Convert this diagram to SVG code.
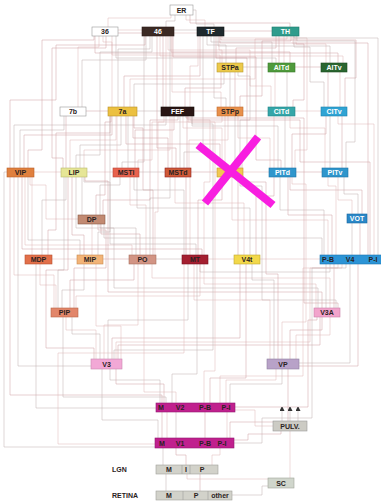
<svg xmlns="http://www.w3.org/2000/svg" width="381" height="501" viewBox="0 0 381 501">
<style>
text{font-family:"Liberation Sans",Arial,sans-serif;font-weight:bold;font-size:7px;text-anchor:middle;fill:#2a2222}
text.w{fill:#fff}
.nodes rect{stroke-width:0.6}
#connectors path{fill:none;stroke-width:0.5}
.a{stroke:#dcb4b6}.b{stroke:#bcaeac}.c{stroke:#cc9ea0}
.lbl{text-anchor:start}
</style>
<defs>
<marker id="ar" markerWidth="4" markerHeight="5" refX="2" refY="2.5" orient="auto" markerUnits="userSpaceOnUse"><path d="M0 0L5 2.5L0 5z" fill="#333"/></marker>
</defs>
<rect width="381" height="501" fill="#fff"/>
<g id="connectors">
<path class="a" d="M171 15V18H108V27"/><path class="b" d="M175 15V21H166V27"/><path class="a" d="M186 15V20H205V27"/><path class="c" d="M190 15V23H290V27"/><path class="b" d="M193 10H196V24H214V27"/>
<path class="a" d="M118 30H142"/><path class="c" d="M118 33H142"/><path class="b" d="M174 30H197"/><path class="a" d="M174 33H197"/><path class="c" d="M224 31H272"/>
<path class="a" d="M222 63V50H168V36"/><path class="b" d="M226 63V45H207V36"/><path class="c" d="M236 63V48H276V36"/><path class="a" d="M220 63V55H112V36"/><path class="b" d="M272 63V42H211V36"/><path class="c" d="M279 63V36"/><path class="a" d="M284 63V36"/><path class="b" d="M276 63V58H116V36"/><path class="c" d="M290 63V52H171V36"/><path class="a" d="M326 63V44H293V36"/><path class="b" d="M330 63V46H218V36"/><path class="c" d="M338 63V53H95V36"/><path class="a" d="M343 63V56H160V36"/><path class="b" d="M243 67H268"/><path class="c" d="M295 67H321"/>
<path class="a" d="M78 107V47H99V36"/><path class="b" d="M82 107V60H146V36"/><path class="c" d="M28 168V150H42V40H94V36"/><path class="a" d="M112 107V42H103V36"/><path class="b" d="M118 107V49H150V36"/><path class="c" d="M124 107V76H200V36"/><path class="a" d="M130 107V79H255V39H287V36"/><path class="b" d="M134 107V84H224V72"/><path class="c" d="M163 107V36"/><path class="a" d="M166 107V36"/><path class="b" d="M170 107V36"/><path class="c" d="M185 107V88H221V72"/><path class="a" d="M190 107V66H198V36"/><path class="b" d="M230 107V72"/><path class="c" d="M235 107V72"/><path class="a" d="M221 107V92H172V36"/><path class="b" d="M226 107V98H214V36"/><path class="c" d="M240 107V96H262V41H291V36"/><path class="a" d="M275 107V72"/><path class="b" d="M287 107V72"/><path class="c" d="M293 107V100H304V44H296V36"/><path class="a" d="M271 107V86H250V50H219V36"/><path class="b" d="M243 111H268"/><path class="c" d="M328 107V72"/><path class="a" d="M340 107V72"/><path class="b" d="M324 107V82H310V47H294V36"/><path class="c" d="M345 107V78H356V40H221V36"/><path class="a" d="M295 111H321"/><path class="b" d="M137 111H161"/><path class="c" d="M86 111H108"/><path class="a" d="M194 111H217"/>
<path class="b" d="M20 168V130H64V116"/><path class="c" d="M24 168V135H112V116"/><path class="a" d="M34 172H61"/><path class="b" d="M14 168V125H166V116"/><path class="c" d="M10 168V100H56V45H145V36"/><path class="a" d="M70 168V140H116V116"/><path class="b" d="M80 168V145H121V116"/><path class="c" d="M66 168V116"/><path class="a" d="M84 168V150H170V116"/><path class="b" d="M76 168V155H100V52H152V36"/><path class="c" d="M63 168V158H52V48H106V36"/><path class="a" d="M117 168V116"/><path class="b" d="M128 168V116"/><path class="c" d="M135 168V130H174V116"/><path class="a" d="M138 168V160H152V122H222V116"/><path class="b" d="M122 168V162H144V36"/><path class="c" d="M168 168V138H133V116"/><path class="a" d="M172 168V116"/><path class="b" d="M180 168V116"/><path class="c" d="M187 168V116"/><path class="a" d="M189 168V140H228V116"/><path class="b" d="M184 168V152H203V36"/><path class="c" d="M176 168V148H157V36"/><path class="a" d="M225 168V116"/><path class="b" d="M235 168V116"/><path class="c" d="M220 168V144H126V116"/><path class="a" d="M222 168V128H183V116"/><path class="b" d="M240 168V120H250V76H238V72"/><path class="c" d="M242 168V156H247V58H216V36"/><path class="a" d="M274 168V116"/><path class="b" d="M285 168V116"/><path class="c" d="M292 168V134H326V116"/><path class="a" d="M270 168V138H238V116"/><path class="b" d="M278 168V126H192V116"/><path class="c" d="M281 168V160H256V57H173V36"/><path class="a" d="M295 168V150H307V38H222V36"/><path class="b" d="M330 168V116"/><path class="c" d="M342 168V116"/><path class="a" d="M325 168V128H290V116"/><path class="b" d="M346 168V142H355V41H297V36"/><path class="c" d="M296 172H322"/><path class="a" d="M87 172H113"/><path class="b" d="M139 172H165"/><path class="c" d="M191 172H217"/><path class="a" d="M243 172H269"/>
<path class="b" d="M82 215V177"/><path class="c" d="M96 215V195H105V122H111V116"/><path class="a" d="M78 219H46V185H30V177"/><path class="b" d="M100 215V185H120V177"/><path class="c" d="M103 215V200H150V120H178V116"/><path class="a" d="M352 214V200H338V177"/><path class="b" d="M358 214V194H344V177"/><path class="c" d="M362 214V190H290V177"/>
<path class="a" d="M32 255V177"/><path class="b" d="M42 255V200H66V177"/><path class="c" d="M48 255V230H56V133H110V116"/><path class="a" d="M52 259H77"/><path class="b" d="M80 255V240H28V177"/><path class="c" d="M84 255V235H72V177"/><path class="a" d="M92 255V224"/><path class="b" d="M98 255V232H110V116"/><path class="c" d="M129 259H103"/><path class="a" d="M132 255V245H25V177"/><path class="b" d="M136 255V228H76V177"/><path class="c" d="M140 255V234H101V224"/><path class="a" d="M146 255V205H130V177"/><path class="b" d="M150 255V198H170V177"/><path class="c" d="M153 255V190H143V128H134V116"/><path class="a" d="M155 255V212H158V122H164V116"/><path class="b" d="M156 259H182"/><path class="c" d="M186 255V177"/><path class="a" d="M190 255V177"/><path class="b" d="M184 255V190H134V177"/><path class="c" d="M198 255V200H222V177"/><path class="a" d="M208 259H234"/><path class="b" d="M196 255V244H110V182H84V177"/><path class="c" d="M202 255V249H22V177"/><path class="a" d="M204 255V182H210V120H190V116"/><path class="b" d="M200 264V272H330V264"/><path class="c" d="M238 255V177"/><path class="a" d="M244 255V203H175V177"/><path class="b" d="M250 255V208H137V177"/><path class="c" d="M256 255V196H274V177"/><path class="a" d="M260 259H320"/><path class="b" d="M324 255V210H280V177"/><path class="c" d="M332 255V215H288V177"/><path class="a" d="M336 255V186H328V177"/><path class="b" d="M352 255V223"/><path class="c" d="M360 255V223"/><path class="a" d="M328 255V220H232V177"/><path class="b" d="M322 255V238H104V224"/><path class="c" d="M370 255V162H300V120H188V116"/><path class="a" d="M374 255V124H338V116"/><path class="b" d="M378 255V38H294V36"/><path class="c" d="M368 255V43H220V36"/>
<path class="a" d="M56 308V285H40V264"/><path class="b" d="M62 308V290H84V264"/><path class="c" d="M70 308V280H134V264"/><path class="a" d="M54 308V275H14V177"/><path class="b" d="M58 308V270H64V177"/><path class="c" d="M74 308V268H106V230H98V224"/><path class="a" d="M76 308V296H200V264"/><path class="b" d="M326 308V264"/><path class="c" d="M334 308V264"/><path class="a" d="M316 308V284H204V264"/><path class="b" d="M318 308V288H114V228H100V224"/><path class="c" d="M322 308V292H108V181H85V177"/><path class="a" d="M330 308V278H152V264"/><path class="b" d="M336 308V300H262V186H240V177"/><path class="c" d="M338 308V303H304V118H186V116"/>
<path class="a" d="M96 359V330H66V317"/><path class="b" d="M100 359V334H72V317"/><path class="c" d="M118 359V345H320V317"/><path class="a" d="M104 359V325H138V264"/><path class="b" d="M108 359V320H188V264"/><path class="c" d="M112 359V338H240V264"/><path class="a" d="M116 359V342H310V268H338V264"/><path class="b" d="M91 366H18V177"/><path class="c" d="M94 359V348H46V270H68V177"/><path class="a" d="M121 359V326H96V264"/><path class="b" d="M114 359V350H213V124H192V116"/><path class="c" d="M290 359V330H322V317"/><path class="a" d="M296 359V335H330V317"/><path class="b" d="M299 363H350V264"/><path class="c" d="M299 366H358V264"/><path class="a" d="M270 359V300H194V264"/><path class="b" d="M274 359V280H252V264"/><path class="c" d="M278 359V274H266V182H241V177"/><path class="a" d="M282 359V322H306V184H292V177"/>
<path class="b" d="M160 403V380H110V369"/><path class="c" d="M164 403V384H116V369"/><path class="a" d="M226 403V380H276V369"/><path class="b" d="M230 403V384H282V369"/><path class="c" d="M235 407H308V320H317V317"/><path class="a" d="M220 403V376H303V268H342V264"/><path class="b" d="M172 403V374H197V264"/><path class="c" d="M210 403V378H246V264"/><path class="a" d="M176 403V392H144V264"/><path class="b" d="M156 408H36V264"/><path class="c" d="M162 403V395H10V177"/><path class="a" d="M204 403V371H215V122H188V116"/><path class="b" d="M166 403V397H63V317"/>
<path class="c" d="M162 438V412"/><path class="a" d="M167 438V412"/><path class="b" d="M176 438V412"/><path class="c" d="M205 438V412"/><path class="a" d="M227 438V412"/><path class="b" d="M158 438V420H102V369"/><path class="c" d="M230 438V422H288V369"/><path class="a" d="M155 444H58V353H184V264"/><path class="b" d="M234 443H262V418H312V268H346V264"/><path class="c" d="M234 440H248V434H281V431"/><path class="a" d="M235 410H255V426H273"/><path class="b" d="M155 447H4V172H7"/>
<path class="a" d="M290 431V478"/><path class="b" d="M163 465V448"/><path class="c" d="M186 465V455H176V448"/><path class="a" d="M212 465V455H220V448"/><path class="b" d="M166 491V474"/><path class="c" d="M200 491V474"/><path class="a" d="M187 474V479H268"/><path class="b" d="M232 495H262V486H268"/>
<path class="b" d="M282 421V409" marker-end="url(#ar)"/><path class="b" d="M290 421V409" marker-end="url(#ar)"/><path class="b" d="M298 421V409" marker-end="url(#ar)"/>
</g>
<g class="nodes">
<g id="n-ER"><rect x="170" y="5" width="23" height="10" fill="#fff" stroke="#999"/><text x="181.5" y="12.5">ER</text></g>
<g id="n-36"><rect x="92" y="27" width="26" height="9" fill="#fff" stroke="#999"/><text x="105" y="34">36</text></g>
<g id="n-46"><rect x="142" y="27" width="32" height="9" fill="#3b2a24" stroke="#2a1a16"/><text class="w" x="158" y="34">46</text></g>
<g id="n-TF"><rect x="197" y="27" width="27" height="9" fill="#1f2a2e" stroke="#111"/><text class="w" x="210.5" y="34">TF</text></g>
<g id="n-TH"><rect x="272" y="27" width="27" height="9" fill="#2f9c8c" stroke="#1d7a6c"/><text class="w" x="285.5" y="34">TH</text></g>
<g id="n-STPa"><rect x="217" y="63" width="26" height="9" fill="#ecc94a" stroke="#b89a30"/><text x="230" y="70">STPa</text></g>
<g id="n-AITd"><rect x="268" y="63" width="27" height="9" fill="#4f9a3c" stroke="#3a7a2a"/><text class="w" x="281.5" y="70">AITd</text></g>
<g id="n-AITv"><rect x="321" y="63" width="26" height="9" fill="#2a6630" stroke="#1c4a20"/><text class="w" x="334" y="70">AITv</text></g>
<g id="n-7b"><rect x="60" y="107" width="26" height="9" fill="#fff" stroke="#999"/><text x="73" y="114">7b</text></g>
<g id="n-7a"><rect x="108" y="107" width="29" height="9" fill="#ecc040" stroke="#b8902a"/><text x="122.5" y="114">7a</text></g>
<g id="n-FEF"><rect x="161" y="107" width="33" height="9" fill="#2a1614" stroke="#150a08"/><text class="w" x="177.5" y="114">FEF</text></g>
<g id="n-STPp"><rect x="217" y="107" width="26" height="9" fill="#e8904a" stroke="#c06a30"/><text x="230" y="114">STPp</text></g>
<g id="n-CITd"><rect x="268" y="107" width="27" height="9" fill="#35a6a8" stroke="#238486"/><text class="w" x="281.5" y="114">CITd</text></g>
<g id="n-CITv"><rect x="321" y="107" width="26" height="9" fill="#30a4d4" stroke="#1e80aa"/><text class="w" x="334" y="114">CITv</text></g>
<g id="n-VIP"><rect x="7" y="168" width="27" height="9" fill="#e0803e" stroke="#b85e28"/><text x="20.5" y="175">VIP</text></g>
<g id="n-LIP"><rect x="61" y="168" width="26" height="9" fill="#e6e696" stroke="#b8b870"/><text x="74" y="175">LIP</text></g>
<g id="n-MSTl"><rect x="113" y="168" width="26" height="9" fill="#e8624e" stroke="#b84838"/><text x="126" y="175">MSTl</text></g>
<g id="n-MSTd"><rect x="165" y="168" width="26" height="9" fill="#cf5a38" stroke="#902020"/><text x="178" y="175">MSTd</text></g>
<g id="n-FST"><rect x="217" y="168" width="26" height="9" fill="#f2c850" stroke="#c09a30"/></g>
<g id="n-PITd"><rect x="269" y="168" width="27" height="9" fill="#2f96cc" stroke="#1e74a6"/><text class="w" x="282.5" y="175">PITd</text></g>
<g id="n-PITv"><rect x="322" y="168" width="26" height="9" fill="#2f96cc" stroke="#1e74a6"/><text class="w" x="335" y="175">PITv</text></g>
<g id="n-VOT"><rect x="347" y="214" width="20" height="9" fill="#2a88c8" stroke="#1a68a0"/><text class="w" x="357" y="221">VOT</text></g>
<g id="n-DP"><rect x="78" y="215" width="27" height="9" fill="#c28a72" stroke="#8a5a48"/><text x="91.5" y="222">DP</text></g>
<g id="n-MDP"><rect x="25" y="255" width="27" height="9" fill="#e2704a" stroke="#b85030"/><text x="38.5" y="262">MDP</text></g>
<g id="n-MIP"><rect x="77" y="255" width="26" height="9" fill="#f2b478" stroke="#c88a50"/><text x="90" y="262">MIP</text></g>
<g id="n-PO"><rect x="129" y="255" width="27" height="9" fill="#d29484" stroke="#a87060"/><text x="142.5" y="262">PO</text></g>
<g id="n-MT"><rect x="182" y="255" width="26" height="9" fill="#a41f30" stroke="#7a1020"/><text x="195" y="262" fill="#3a0a10">MT</text></g>
<g id="n-V4t"><rect x="234" y="255" width="26" height="9" fill="#f2d84a" stroke="#c0a830"/><text x="247" y="262">V4t</text></g>
<g id="n-V4"><rect x="320" y="255" width="62" height="9" fill="#2c94d6" stroke="#1c74b0"/><text x="328" y="262" font-size="6" fill="#102040">P-B</text><text x="350" y="262" fill="#102040">V4</text><text x="373" y="262" font-size="6" fill="#102040">P-I</text></g>
<g id="n-PIP"><rect x="51" y="308" width="27" height="9" fill="#e2866a" stroke="#b86448"/><text x="64.5" y="315">PIP</text></g>
<g id="n-V3A"><rect x="314" y="308" width="26" height="9" fill="#f2a4cc" stroke="#c880a8"/><text x="327" y="315">V3A</text></g>
<g id="n-V3"><rect x="91" y="359" width="31" height="10" fill="#f2a8d6" stroke="#c888b0"/><text x="106.5" y="366.5">V3</text></g>
<g id="n-VP"><rect x="267" y="359" width="32" height="10" fill="#b8a2c8" stroke="#9080a0"/><text x="283" y="366.5">VP</text></g>
<g id="n-V2"><rect x="156" y="403" width="79" height="9" fill="#c0208e" stroke="#901870"/><text x="161" y="410" font-size="6">M</text><text x="180" y="410" font-size="6">V2</text><text x="205" y="410" font-size="6">P-B</text><text x="226" y="410" font-size="6">P-I</text></g>
<g id="n-PULV"><rect x="273" y="421" width="34" height="10" fill="#cccbc4" stroke="#999"/><text x="290" y="428.5">PULV.</text></g>
<g id="n-V1"><rect x="155" y="438" width="79" height="10" fill="#c0208e" stroke="#901870"/><text x="162" y="445.5" font-size="6">M</text><text x="180" y="445.5" font-size="6">V1</text><text x="205" y="445.5" font-size="6">P-B</text><text x="222" y="445.5" font-size="6">P-I</text></g>
<g id="n-LGN"><rect x="156" y="465" width="62" height="9" fill="#d2d2ca" stroke="#a0a09a"/><path d="M182 465V474M190 465V474" stroke="#a0a09a" stroke-width="0.6"/><text x="169" y="472" font-size="6">M</text><text x="186" y="472" font-size="6">I</text><text x="202" y="472" font-size="6">P</text></g>
<g id="n-SC"><rect x="268" y="478" width="26" height="10" fill="#d0d6cc" stroke="#a0a69a"/><text x="281" y="485.5">SC</text></g>
<g id="n-RETINA"><rect x="156" y="491" width="76" height="9" fill="#d2d2ca" stroke="#a0a09a"/><path d="M183 491V500M208 491V500" stroke="#a0a09a" stroke-width="0.6"/><text x="169" y="498" font-size="6">M</text><text x="196" y="498" font-size="6">P</text><text x="220" y="498" font-size="6" font-weight="normal">other</text></g>
<text class="lbl" x="112" y="472">LGN</text>
<text class="lbl" x="112" y="498">RETINA</text>
</g>
<g id="x-mark" stroke="#f81ee0" stroke-width="8" stroke-linecap="butt">
<path d="M198 145L273 205"/><path d="M258 137L205 203"/>
</g>
</svg>
